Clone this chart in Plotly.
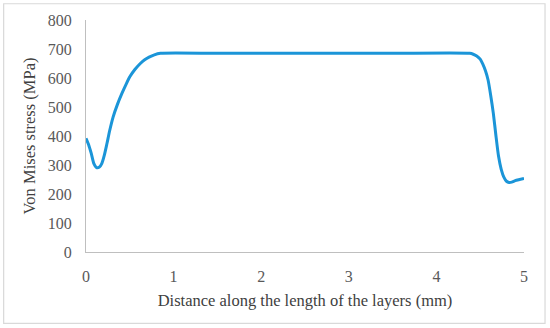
import plotly.graph_objects as go

distance = [0.0, 0.03, 0.06, 0.09, 0.12, 0.15, 0.18, 0.21, 0.24, 0.27, 0.31, 0.36, 0.41, 0.46, 0.50, 0.56, 0.62, 0.67, 0.72, 0.78, 0.85, 1.5, 2.5, 3.5, 4.38, 4.42, 4.46, 4.50, 4.53, 4.56, 4.59, 4.62, 4.65, 4.68, 4.71, 4.74, 4.77, 4.80, 4.83, 4.86, 4.90, 4.95, 5.0]
stress = [392, 370, 340, 305, 291, 292, 305, 335, 375, 418, 466, 510, 547, 580, 604, 630, 650, 663, 672, 680, 685, 685, 685, 685, 685, 682, 676, 665, 648, 625, 593, 540, 478, 400, 329, 285, 258, 244, 240, 241, 246, 250, 254]

x_ticks = [0, 1, 2, 3, 4, 5]
y_ticks = [0, 100, 200, 300, 400, 500, 600, 700, 800]

fig = go.Figure()
fig.add_trace(go.Scatter(
    x=distance, y=stress, mode="lines",
    line=dict(color="#1b95d8", width=3, shape="spline", smoothing=0.6),
    showlegend=False, hoverinfo="skip",
))

font_family = "Liberation Serif"
fig.update_layout(
    width=550, height=328,
    margin=dict(l=86, r=26, t=20, b=76),
    paper_bgcolor="white", plot_bgcolor="white",
    font=dict(family=font_family, color="#595959", size=16),
)
fig.update_xaxes(
    range=[0, 5], tickvals=x_ticks, showgrid=False, zeroline=False,
    showline=True, linecolor="#bfbfbf", linewidth=1,
    ticks="outside", ticklen=10, tickcolor="rgba(0,0,0,0)",
    tickfont=dict(family=font_family, size=16, color="#595959"),
    title=dict(text="Distance along the length of the layers (mm)",
               font=dict(family=font_family, size=16.5, color="#404040"), standoff=10),
)
fig.update_yaxes(
    range=[0, 800], tickvals=y_ticks, showgrid=False, zeroline=False,
    showline=True, linecolor="#bfbfbf", linewidth=1,
    ticks="outside", ticklen=10, tickcolor="rgba(0,0,0,0)",
    tickfont=dict(family=font_family, size=16, color="#595959"),
    title=dict(text="Von Mises stress (MPa)",
               font=dict(family=font_family, size=16.5, color="#404040"), standoff=8),
)
fig.add_shape(type="rect", xref="paper", yref="paper",
              x0=-0.188, x1=1.048, y0=-0.308, y1=1.07,
              line=dict(color="#d9d9d9", width=1.2), layer="below")

fig.write_html("out.html", config={"displayModeBar": False},
               post_script="document.body.style.margin='0';document.body.style.padding='0';")
